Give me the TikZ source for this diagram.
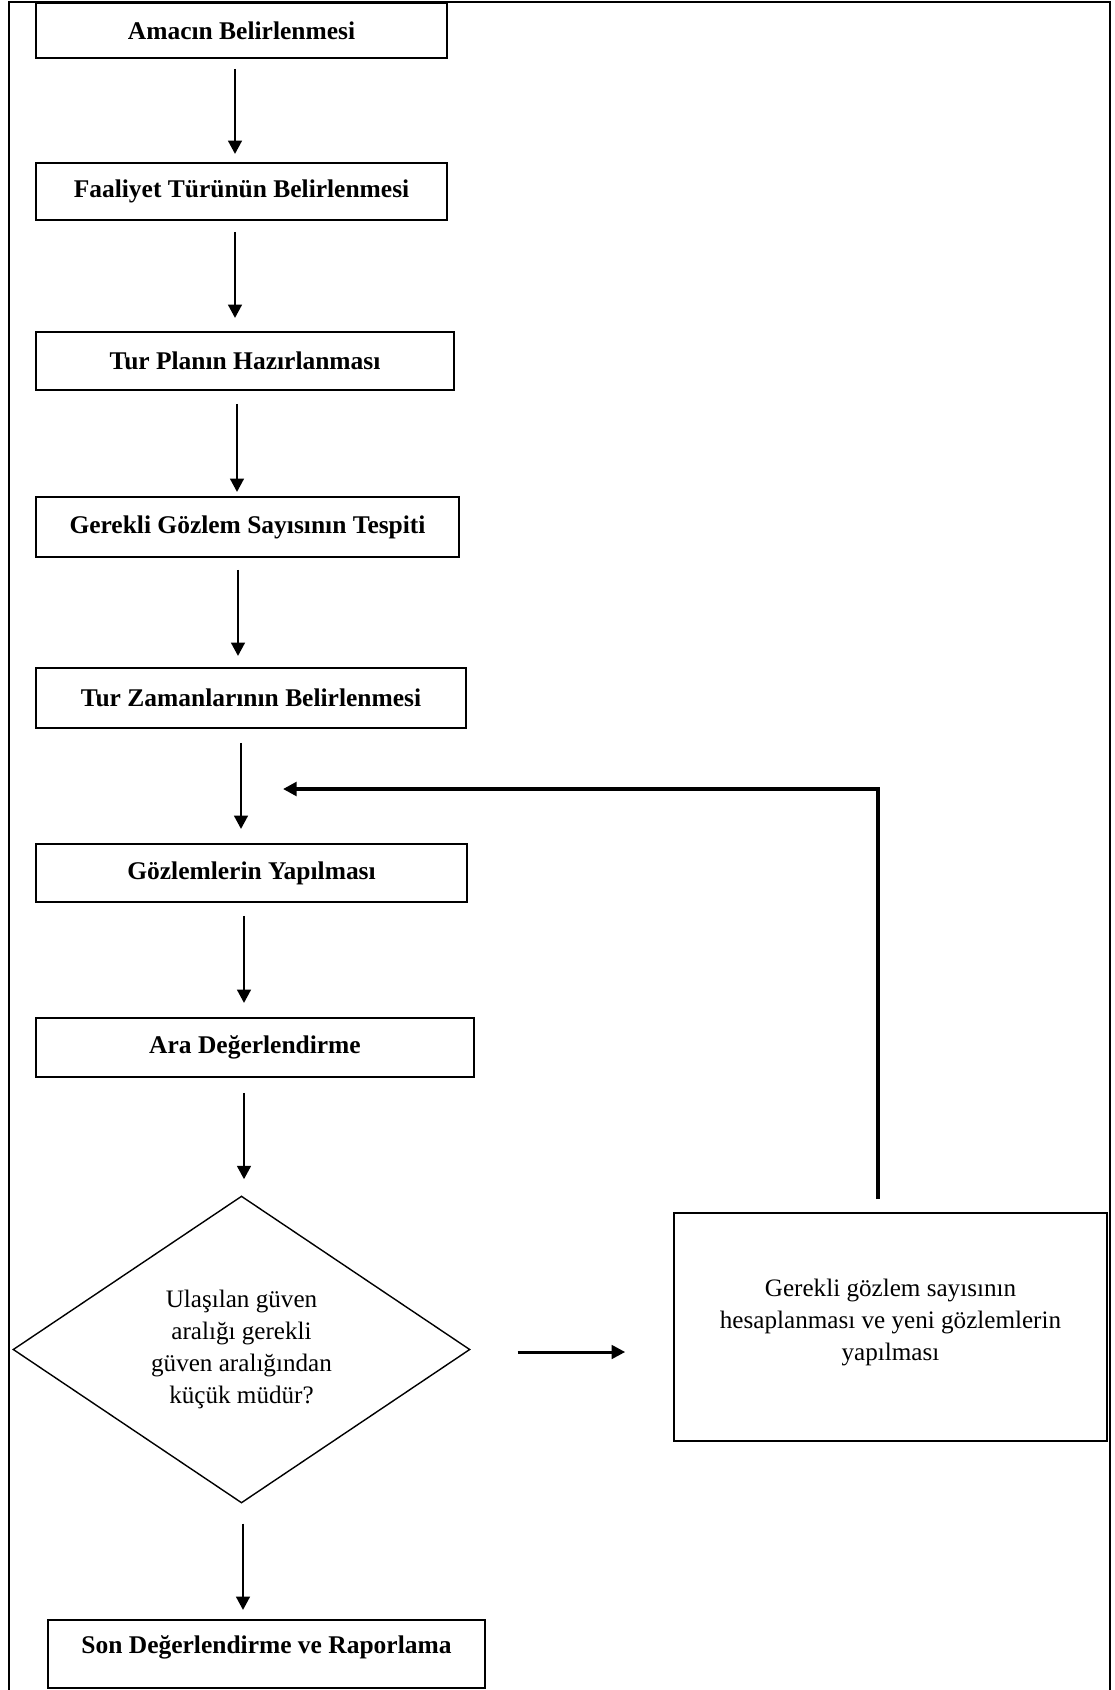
\documentclass[tikz,border=0pt]{standalone}
\usepackage{fontspec}
\setmainfont{Liberation Serif}
\usepackage{tikz}
\usetikzlibrary{arrows.meta, shapes.geometric}

\tikzset{
  stepbox/.style={draw, line width=1.1pt, inner sep=0pt, font=\fontsize{14.5}{18}\selectfont\bfseries},
  textbox/.style={draw, line width=1pt, inner sep=0pt, align=center, font=\fontsize{14.3}{18.2}\selectfont},
  arr/.style={-{Triangle[length=0.27cm, width=0.27cm]}, line width=1.7pt},
}

\begin{document}
\begin{tikzpicture}[x=0.02cm, y=-0.02cm]
\useasboundingbox (0,0) rectangle (1115,1690);
% outer frame
\draw[line width=1.1pt] (9,1692) -- (9,2) -- (1110,2) -- (1110,1692);

\node[stepbox, minimum width=8.22cm, minimum height=1.1cm]  (a) at (241.5,30.5)  {Amacın Belirlenmesi};
\node[stepbox, minimum width=8.22cm, minimum height=1.14cm] (b) at (241.5,191.5) {Faaliyet Türünün Belirlenmesi};
\node[stepbox, minimum width=8.36cm, minimum height=1.16cm] (c) at (245,361)    {Tur Planın Hazırlanması};
\node[stepbox, minimum width=8.46cm, minimum height=1.2cm]  (d) at (247.5,527)  {Gerekli Gözlem Sayısının Tespiti};
\node[stepbox, minimum width=8.6cm,  minimum height=1.2cm]  (e) at (251,698)    {Tur Zamanlarının Belirlenmesi};
\node[stepbox, minimum width=8.62cm, minimum height=1.16cm] (f) at (251.5,873)  {Gözlemlerin Yapılması};
\node[stepbox, minimum width=8.76cm, minimum height=1.18cm] (g) at (255,1047.5) {Ara Değerlendirme};
\node[textbox, diamond, aspect=1.5, line width=0.8pt, minimum width=9.14cm, minimum height=6.14cm] (h) at (241.5,1349.5)
  {Ulaşılan güven\\aralığı gerekli\\güven aralığından\\küçük müdür?};
\node[textbox, minimum width=8.66cm, minimum height=4.56cm, text depth=0.3cm] (i) at (890.5,1327)
  {Gerekli gözlem sayısının\\hesaplanması ve yeni gözlemlerin\\yapılması};
\node[stepbox, minimum width=8.74cm, minimum height=1.36cm, text depth=0.38cm] (j) at (266.5,1654) {Son Değerlendirme ve Raporlama};
\coordinate (back) at (283,789);

\draw[arr, shorten <=0.2cm,  shorten >=0.16cm] ([xshift=-0.13cm]a.south) -- ([xshift=-0.13cm]a.south |- b.north);
\draw[arr, shorten <=0.22cm, shorten >=0.26cm] ([xshift=-0.13cm]b.south) -- ([xshift=-0.13cm]b.south |- c.north);
\draw[arr, shorten <=0.26cm, shorten >=0.08cm] ([xshift=-0.16cm]c.south) -- ([xshift=-0.16cm]c.south |- d.north);
\draw[arr, shorten <=0.24cm, shorten >=0.22cm] ([xshift=-0.19cm]d.south) -- ([xshift=-0.19cm]d.south |- e.north);
\draw[arr, shorten <=0.28cm, shorten >=0.28cm] ([xshift=-0.2cm]e.south)  -- ([xshift=-0.2cm]e.south |- f.north);
\draw[arr, shorten <=0.26cm, shorten >=0.28cm] ([xshift=-0.15cm]f.south) -- ([xshift=-0.15cm]f.south |- g.north);
\draw[arr, shorten <=0.3cm,  shorten >=0.32cm] ([xshift=-0.22cm]g.south) -- ([xshift=-0.22cm]g.south |- h.north);
\draw[arr, shorten <=0.4cm,  shorten >=0.18cm] ([xshift=0.03cm]h.south)  -- ([xshift=0.03cm]h.south |- j.north);
\draw[arr, shorten <=0.94cm, shorten >=0.96cm] ([yshift=-0.05cm]h.east)  -- ([yshift=-0.05cm]h.east -| i.west);
% back to the observations
\draw[arr, line width=2pt] ([xshift=-0.25cm, yshift=0.26cm]i.north) |- (back);
\end{tikzpicture}
\end{document}
